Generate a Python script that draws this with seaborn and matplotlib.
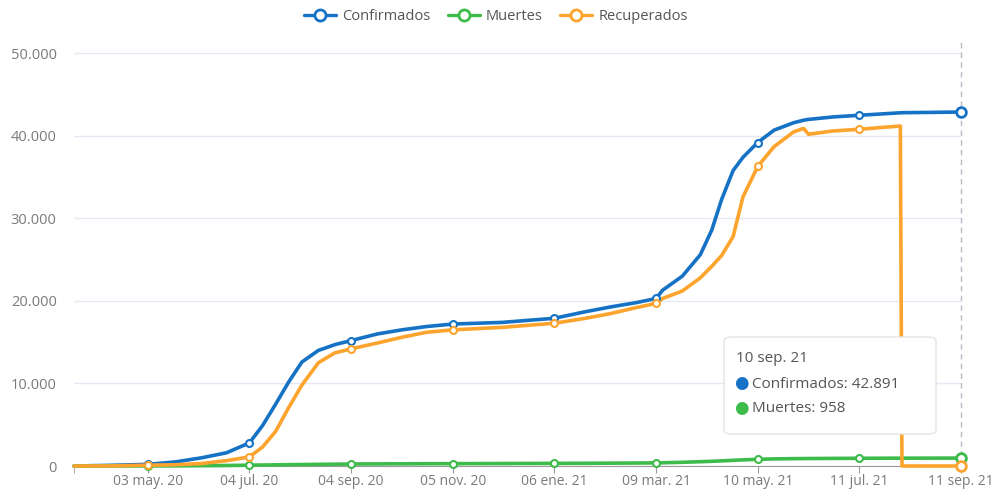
import matplotlib.pyplot as plt
from matplotlib.patches import FancyBboxPatch
from matplotlib.lines import Line2D
import seaborn as sns
import pandas as pd

# values
fechas = ["2020-03-19", "2020-04-10", "2020-05-03", "2020-05-20", "2020-06-05", "2020-06-20",
          "2020-07-04", "2020-07-12", "2020-07-20", "2020-07-28", "2020-08-05", "2020-08-15",
          "2020-08-25", "2020-09-04", "2020-09-20", "2020-10-05", "2020-10-20", "2020-11-05",
          "2020-12-05", "2021-01-06", "2021-01-25", "2021-02-10", "2021-02-25", "2021-03-09",
          "2021-03-13", "2021-03-25", "2021-04-05", "2021-04-12", "2021-04-18", "2021-04-25",
          "2021-05-01", "2021-05-10", "2021-05-20", "2021-06-01", "2021-06-07", "2021-06-10",
          "2021-06-25", "2021-07-11", "2021-08-05", "2021-08-06", "2021-09-11"]
confirmados = [0, 80, 200, 500, 1000, 1600,
               2800, 4900, 7500, 10200, 12600, 14000,
               14700, 15200, 16000, 16500, 16900, 17200,
               17400, 17900, 18700, 19300, 19800, 20300,
               21300, 23000, 25600, 28600, 32300, 35800,
               37400, 39200, 40700, 41600, 41900, 42000,
               42300, 42500, 42800, 42810, 42891]
muertes = [0, 3, 10, 20, 40, 60,
           100, 120, 140, 160, 180, 200,
           220, 240, 255, 265, 275, 285,
           300, 320, 330, 345, 360, 380,
           390, 450, 520, 570, 620, 690,
           740, 810, 860, 890, 900, 905,
           920, 935, 948, 949, 958]
recuperados = [0, 10, 100, 150, 300, 650,
               1100, 2300, 4200, 7100, 9800, 12500,
               13700, 14200, 14900, 15600, 16200, 16500,
               16800, 17300, 17900, 18500, 19200, 19700,
               20300, 21200, 22800, 24200, 25500, 27800,
               32600, 36300, 38700, 40500, 40900, 40200,
               40600, 40800, 41200, 0, 0]

tick_fechas = ["2020-05-03", "2020-07-04", "2020-09-04", "2020-11-05", "2021-01-06",
               "2021-03-09", "2021-05-10", "2021-07-11", "2021-09-11"]
tick_labels = ["03 may. 20", "04 jul. 20", "04 sep. 20", "05 nov. 20", "06 ene. 21",
               "09 mar. 21", "10 may. 21", "11 jul. 21", "11 sep. 21"]

series = ["Confirmados", "Muertes", "Recuperados"]
colores = ["#1672c4", "#3dbb4b", "#fca42d"]

df = pd.DataFrame({"fecha": pd.to_datetime(fechas), "Confirmados": confirmados,
                   "Muertes": muertes, "Recuperados": recuperados})

sns.set_style("white")
plt.rcParams['font.family'] = ['Open Sans', 'DejaVu Sans']

fig = plt.figure(figsize=(9.92, 4.92), dpi=100)
ax = fig.add_axes([74 / 992, 1 - 466 / 492, (961 - 74) / 992, 425 / 492])

ticks = pd.to_datetime(tick_fechas)
marcas = df[df.fecha.isin(ticks)]

for nombre, color in zip(series, colores):
    sns.lineplot(data=df, x="fecha", y=nombre, color=color, linewidth=2.6, ax=ax,
                 clip_on=False, zorder=3 + series.index(nombre) * 0.1)
    ax.plot(marcas.fecha, marcas[nombre], ls="none", marker="o", ms=5, mfc="white",
            mec=color, mew=1.5, clip_on=False, zorder=4)

# last point highlighted (hover)
ultimo = df.iloc[-1]
for nombre, color in zip(series, colores):
    ax.plot([ultimo.fecha], [ultimo[nombre]], ls="none", marker="o", ms=7, mfc="white",
            mec=color, mew=2, clip_on=False, zorder=5)
ax.axvline(ultimo.fecha, color="#b9bcc8", ls=(0, (4, 3)), lw=1, zorder=2, clip_on=False)

ax.set_xlim(df.fecha.iloc[0], ultimo.fecha)
ax.set_ylim(0, 51500)
ax.set_yticks([0, 10000, 20000, 30000, 40000, 50000])
ax.set_yticklabels(["0", "10.000", "20.000", "30.000", "40.000", "50.000"])
ax.set_xticks(list(ticks))
ax.set_xticklabels(tick_labels)
ax.set_xticks([df.fecha.iloc[0]], minor=True)
ax.yaxis.grid(True, color="#e6e9f4", lw=1)
ax.xaxis.grid(False)
ax.set_xlabel("")
ax.set_ylabel("")
for s in ["top", "right", "left"]:
    ax.spines[s].set_visible(False)
ax.spines["bottom"].set_color("#9a9a9a")
ax.tick_params(axis="x", which="both", bottom=True, length=5, color="#9a9a9a",
               labelsize=10, labelcolor="#7a7a7a", pad=1)
ax.tick_params(axis="y", left=False, labelsize=10.5, labelcolor="#7a7a7a", pad=9)

handles = [Line2D([0], [0], color=c, lw=2.4, marker="o", ms=8, mfc="white", mew=2)
           for c in colores]
fig.legend(handles, series, loc="center", bbox_to_anchor=(0.5, 1 - 17 / 492), ncol=3,
           frameon=False, fontsize=10.5, labelcolor="#555555", handlelength=2.2,
           handletextpad=0.4, columnspacing=1.2)

# tooltip box
W, H = 992, 492
caja = FancyBboxPatch((724 / W, 1 - 434 / H), 212 / W, 97 / H,
                      boxstyle="round,pad=0,rounding_size=0.008",
                      transform=fig.transFigure, fc="white", ec="#e4e4e4", lw=1,
                      zorder=10)
fig.add_artist(caja)
fig.text(736 / W, 1 - 358 / H, "10 sep. 21", fontsize=11, color="#555555",
         va="center", zorder=11)
fig.text(734 / W, 1 - 384 / H, "●", fontsize=12, color="#1672c4", va="center", zorder=11)
fig.text(752 / W, 1 - 384 / H, "Confirmados: 42.891", fontsize=11, color="#555555",
         va="center", zorder=11)
fig.text(734 / W, 1 - 409 / H, "●", fontsize=12, color="#3dbb4b", va="center", zorder=11)
fig.text(752 / W, 1 - 409 / H, "Muertes: 958", fontsize=11, color="#555555",
         va="center", zorder=11)

fig.savefig("out.png", dpi=100)
